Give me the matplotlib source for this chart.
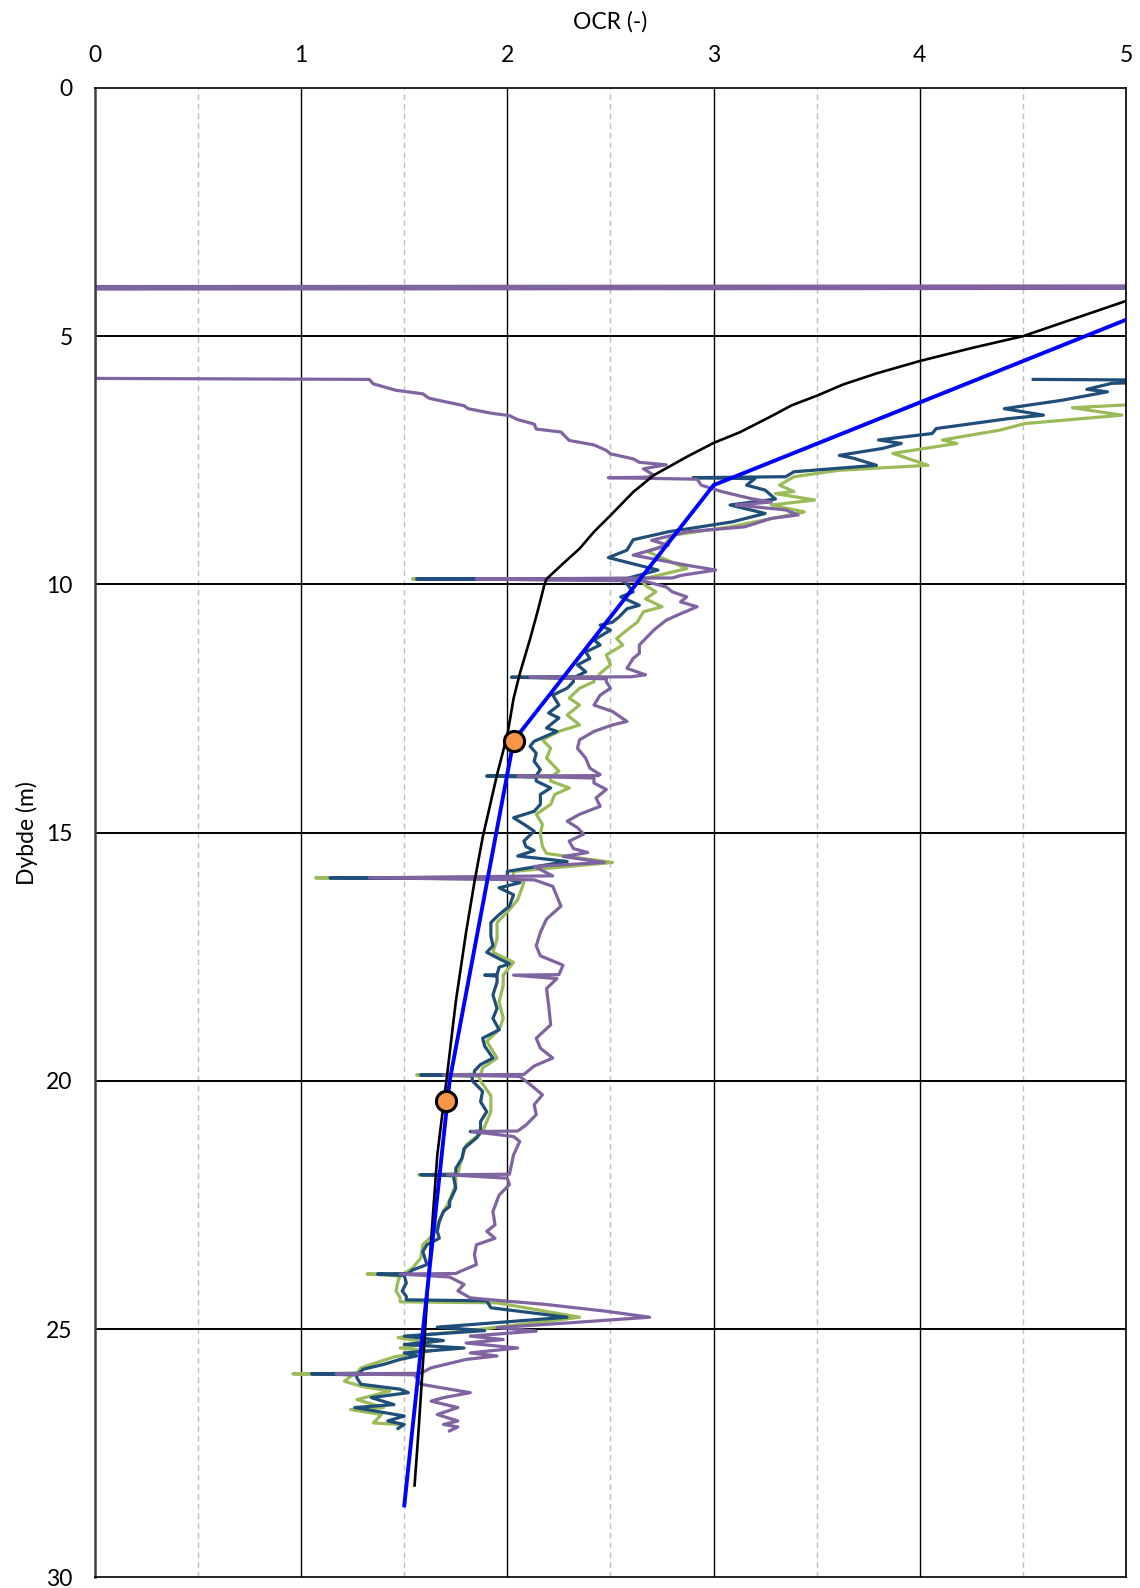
import numpy as np
import matplotlib
matplotlib.use("Agg")
import matplotlib.pyplot as plt

plt.rcParams['font.family'] = ['Lato', 'DejaVu Sans']

# (OCR, depth) pairs
cptu_green = [
    (5.3, 6.32), (4.74, 6.44), (4.98, 6.59), (4.51, 6.76), (4.39, 6.89), (4.11, 7.09), (4.18, 7.16),
    (3.87, 7.36), (3.94, 7.46), (4.04, 7.60), (3.61, 7.70), (3.39, 7.83), (3.32, 8.0), (3.39, 8.13),
    (3.30, 8.17), (3.49, 8.30), (3.28, 8.40), (3.44, 8.54), (3.32, 8.64), (3.08, 8.84), (2.80, 9.01),
    (2.76, 9.21), (2.68, 9.34), (2.87, 9.68), (2.70, 9.85), (2.65, 9.88), (1.54, 9.89), (2.65, 9.91),
    (2.67, 10.02), (2.72, 10.15), (2.67, 10.29), (2.75, 10.45), (2.66, 10.55), (2.63, 10.76),
    (2.58, 10.92), (2.53, 11.09), (2.56, 11.22), (2.48, 11.42), (2.50, 11.62), (2.45, 11.79),
    (2.44, 11.86), (2.02, 11.87), (2.42, 11.89), (2.42, 11.96), (2.35, 12.09), (2.30, 12.29),
    (2.35, 12.43), (2.29, 12.63), (2.35, 12.83), (2.25, 12.96), (2.17, 13.13), (2.21, 13.30),
    (2.19, 13.50), (2.25, 13.76), (2.22, 13.85), (1.90, 13.86), (2.21, 13.88), (2.21, 13.96),
    (2.30, 14.10), (2.23, 14.23), (2.21, 14.43), (2.14, 14.63), (2.17, 14.83), (2.16, 15.03),
    (2.17, 15.28), (2.19, 15.42), (2.51, 15.60), (2.03, 15.78), (2.03, 15.90), (1.07, 15.91),
    (2.05, 15.93), (2.08, 16.01), (2.05, 16.35), (2.01, 16.55), (1.95, 16.81), (1.95, 17.14),
    (1.93, 17.41), (2.03, 17.61), (1.98, 17.87), (1.98, 18.07), (1.96, 18.41), (1.98, 18.74),
    (1.96, 18.97), (1.90, 19.20), (1.95, 19.54), (1.88, 19.74), (1.87, 19.87), (1.56, 19.88),
    (1.86, 19.90), (1.87, 20.0), (1.92, 20.30), (1.92, 20.62), (1.88, 21.02), (1.80, 21.29),
    (1.77, 21.69), (1.76, 21.88), (1.57, 21.89), (1.75, 21.91), (1.75, 22.09), (1.71, 22.49),
    (1.69, 22.63), (1.64, 23.10), (1.59, 23.30), (1.58, 23.57), (1.54, 23.77), (1.50, 23.88),
    (1.32, 23.89), (1.48, 23.93), (1.47, 24.03), (1.46, 24.23), (1.48, 24.37), (1.48, 24.45),
    (1.95, 24.47), (2.35, 24.76), (2.14, 24.87), (1.87, 25.0), (1.47, 25.17), (1.63, 25.28),
    (1.48, 25.38), (1.63, 25.44), (1.45, 25.56), (1.34, 25.71), (1.29, 25.78), (1.27, 25.89),
    (0.96, 25.90), (1.25, 25.92), (1.21, 26.05), (1.29, 26.15), (1.43, 26.25), (1.27, 26.42),
    (1.40, 26.58), (1.24, 26.62), (1.39, 26.72), (1.35, 26.89), (1.47, 26.92),
]

cptu_navy = [
    (4.55, 5.87), (5.4, 5.89), (4.93, 5.95), (4.81, 6.07), (4.91, 6.12), (4.69, 6.29), (4.41, 6.46),
    (4.60, 6.59), (4.43, 6.66), (4.08, 6.86), (4.06, 6.96), (3.80, 7.09), (3.91, 7.16), (3.82, 7.26),
    (3.61, 7.40), (3.68, 7.46), (3.79, 7.60), (3.39, 7.73), (3.35, 7.83), (2.90, 7.85), (3.20, 7.87),
    (3.16, 8.0), (3.25, 8.10), (3.30, 8.28), (3.08, 8.40), (3.25, 8.57), (3.09, 8.74), (2.78, 8.94),
    (2.61, 9.10), (2.58, 9.31), (2.49, 9.46), (2.73, 9.71), (2.58, 9.88), (1.56, 9.89), (2.55, 9.91),
    (2.58, 9.99), (2.61, 10.15), (2.55, 10.25), (2.64, 10.42), (2.58, 10.49), (2.54, 10.66),
    (2.51, 10.76), (2.45, 10.82), (2.50, 10.92), (2.42, 11.12), (2.45, 11.22), (2.38, 11.36),
    (2.40, 11.49), (2.34, 11.62), (2.38, 11.76), (2.33, 11.86), (2.02, 11.87), (2.32, 11.89),
    (2.32, 11.96), (2.29, 12.09), (2.22, 12.23), (2.25, 12.43), (2.20, 12.59), (2.25, 12.69),
    (2.19, 12.89), (2.24, 12.96), (2.13, 13.16), (2.11, 13.26), (2.14, 13.40), (2.13, 13.56),
    (2.16, 13.73), (2.14, 13.85), (1.90, 13.86), (2.14, 13.88), (2.14, 13.96), (2.21, 14.10),
    (2.16, 14.23), (2.16, 14.43), (2.13, 14.57), (2.03, 14.70), (2.08, 14.83), (2.13, 14.97),
    (2.08, 15.17), (2.09, 15.28), (2.13, 15.36), (2.05, 15.47), (2.29, 15.58), (2.0, 15.78),
    (2.0, 15.90), (1.14, 15.91), (2.0, 15.93), (2.06, 16.01), (1.96, 16.11), (2.03, 16.25),
    (2.01, 16.48), (1.96, 16.65), (1.92, 16.81), (1.92, 17.08), (1.93, 17.28), (1.90, 17.41),
    (1.96, 17.54), (2.01, 17.64), (1.96, 17.71), (1.95, 17.86), (1.89, 17.87), (1.95, 17.89),
    (1.95, 18.01), (1.93, 18.27), (1.95, 18.54), (1.93, 18.74), (1.96, 18.97), (1.88, 19.14),
    (1.89, 19.30), (1.93, 19.54), (1.87, 19.67), (1.84, 19.80), (1.84, 19.87), (1.58, 19.88),
    (1.83, 19.90), (1.83, 20.0), (1.88, 20.21), (1.87, 20.42), (1.90, 20.62), (1.87, 20.82),
    (1.87, 21.01), (1.82, 21.02), (1.87, 21.04), (1.85, 21.15), (1.79, 21.36), (1.78, 21.56),
    (1.75, 21.76), (1.75, 21.88), (1.58, 21.89), (1.74, 21.91), (1.74, 21.96), (1.75, 22.16),
    (1.72, 22.43), (1.72, 22.53), (1.69, 22.63), (1.67, 22.83), (1.66, 23.03), (1.67, 23.17),
    (1.61, 23.30), (1.59, 23.44), (1.61, 23.70), (1.54, 23.81), (1.52, 23.88), (1.37, 23.89),
    (1.50, 23.92), (1.51, 24.07), (1.49, 24.23), (1.51, 24.34), (1.51, 24.41), (1.90, 24.43),
    (1.92, 24.57), (2.29, 24.76), (1.66, 24.96), (1.89, 25.03), (1.50, 25.14), (1.69, 25.23),
    (1.50, 25.31), (1.79, 25.38), (1.50, 25.48), (1.56, 25.54), (1.48, 25.61), (1.40, 25.71),
    (1.30, 25.81), (1.28, 25.89), (1.05, 25.90), (1.27, 25.92), (1.27, 25.98), (1.29, 26.11),
    (1.48, 26.21), (1.52, 26.28), (1.34, 26.38), (1.45, 26.52), (1.26, 26.58), (1.50, 26.75),
    (1.42, 26.85), (1.50, 26.92), (1.47, 27.0),
]

cptu_purple = [
    (8.0, 3.98), (0.0, 4.0), (8.0, 4.03), (0.0, 4.05), (0.0, 5.85), (1.33, 5.87), (1.35, 5.96),
    (1.46, 6.09), (1.59, 6.16), (1.62, 6.25), (1.79, 6.40), (1.81, 6.46), (1.92, 6.55), (2.01, 6.60),
    (2.05, 6.68), (2.13, 6.77), (2.14, 6.87), (2.26, 6.93), (2.30, 7.10), (2.42, 7.19), (2.48, 7.30),
    (2.50, 7.37), (2.61, 7.47), (2.64, 7.54), (2.77, 7.59), (2.66, 7.67), (2.71, 7.80), (2.68, 7.84),
    (2.49, 7.85), (2.92, 7.88), (2.94, 8.0), (3.04, 8.13), (3.18, 8.27), (3.28, 8.34), (3.11, 8.40),
    (3.35, 8.50), (3.41, 8.60), (3.28, 8.67), (3.15, 8.84), (2.87, 8.94), (2.70, 9.11), (2.78, 9.21),
    (2.61, 9.41), (2.88, 9.62), (3.01, 9.71), (2.84, 9.82), (2.80, 9.87), (1.85, 9.89), (2.66, 9.93),
    (2.77, 10.05), (2.80, 10.15), (2.87, 10.25), (2.84, 10.35), (2.92, 10.45), (2.84, 10.59),
    (2.77, 10.72), (2.74, 10.82), (2.71, 10.92), (2.67, 11.09), (2.64, 11.22), (2.64, 11.39),
    (2.61, 11.49), (2.58, 11.69), (2.67, 11.82), (2.60, 11.86), (2.11, 11.87), (2.48, 11.90),
    (2.48, 11.96), (2.50, 12.09), (2.45, 12.23), (2.42, 12.43), (2.51, 12.56), (2.58, 12.76),
    (2.51, 12.83), (2.42, 12.96), (2.35, 13.13), (2.34, 13.30), (2.38, 13.50), (2.40, 13.70),
    (2.45, 13.83), (2.44, 13.85), (2.05, 13.86), (2.42, 13.90), (2.42, 14.0), (2.48, 14.13),
    (2.43, 14.30), (2.45, 14.47), (2.35, 14.63), (2.29, 14.77), (2.34, 14.90), (2.37, 15.03),
    (2.30, 15.17), (2.32, 15.32), (2.39, 15.40), (2.27, 15.48), (2.47, 15.60), (2.13, 15.68),
    (2.22, 15.87), (1.33, 15.91), (2.13, 15.95), (2.22, 16.08), (2.24, 16.28), (2.26, 16.48),
    (2.19, 16.74), (2.16, 17.01), (2.14, 17.28), (2.16, 17.48), (2.27, 17.67), (2.25, 17.86),
    (2.03, 17.87), (2.24, 17.94), (2.19, 18.14), (2.20, 18.47), (2.21, 18.87), (2.14, 19.14),
    (2.16, 19.34), (2.22, 19.54), (2.13, 19.70), (2.08, 19.87), (1.69, 19.88), (2.06, 19.91),
    (2.11, 20.07), (2.17, 20.28), (2.13, 20.48), (2.14, 20.68), (2.09, 20.89), (2.05, 21.01),
    (1.83, 21.02), (2.03, 21.12), (2.06, 21.22), (2.03, 21.49), (2.01, 21.88), (1.71, 21.89),
    (2.00, 21.96), (2.01, 22.09), (1.96, 22.30), (1.93, 22.63), (1.94, 22.90), (1.90, 23.03),
    (1.94, 23.17), (1.85, 23.30), (1.84, 23.50), (1.85, 23.70), (1.77, 23.84), (1.75, 23.88),
    (1.48, 23.89), (1.72, 23.95), (1.79, 24.10), (1.76, 24.23), (1.82, 24.37), (1.95, 24.42),
    (2.18, 24.50), (2.48, 24.64), (2.69, 24.76), (2.31, 24.87), (1.95, 24.97), (2.14, 25.04),
    (1.82, 25.14), (1.98, 25.21), (1.80, 25.28), (2.05, 25.38), (1.82, 25.48), (1.95, 25.54),
    (1.80, 25.61), (1.63, 25.78), (1.58, 25.89), (1.17, 25.90), (1.55, 25.92), (1.58, 26.11),
    (1.82, 26.28), (1.69, 26.38), (1.63, 26.45), (1.76, 26.58), (1.66, 26.72), (1.76, 26.85),
    (1.69, 26.92), (1.76, 26.97), (1.72, 27.05),
]

ocr_curve = [
    (5.0, 4.29), (4.5, 5.0), (4.25, 5.24), (4.0, 5.50), (3.79, 5.75), (3.63, 5.97), (3.5, 6.20),
    (3.38, 6.39), (3.29, 6.59), (3.13, 6.93), (3.0, 7.15), (2.87, 7.43), (2.71, 7.80), (2.61, 8.14),
    (2.50, 8.61), (2.42, 8.94), (2.35, 9.28), (2.27, 9.58), (2.19, 9.89), (2.18, 10.0),
    (2.15, 10.49), (2.11, 11.1), (2.06, 11.8), (2.03, 12.3), (2.0, 13.03), (1.95, 13.83),
    (1.88, 15.1), (1.84, 16.0), (1.80, 17.0), (1.75, 18.4), (1.71, 19.8), (1.66, 21.5),
    (1.62, 23.8), (1.57, 27.0), (1.55, 28.15),
]

ocr_design = [(5.0, 4.67), (3.0, 8.0), (2.03, 13.15), (1.72, 20.0), (1.50, 28.55)]

ocr_lab = [2.03, 1.70]
depth_lab = [13.15, 20.4]

x_ticks = [0, 1, 2, 3, 4, 5]
y_ticks = [0, 5, 10, 15, 20, 25, 30]

fig = plt.figure(figsize=(11.4, 15.88), dpi=100)
ax = fig.add_axes([0.0833, 0.0067, 0.9044, 0.9379])

# grid first so it sits under the profiles
for x in np.arange(0.5, 5, 1.0):
    ax.axvline(x, color='#BFBFBF', lw=1.0, ls=(0, (4, 3)), zorder=1)
for x in x_ticks[1:]:
    ax.axvline(x, color='black', lw=1.0, zorder=1)
for y in y_ticks[1:-1]:
    ax.axhline(y, color='black', lw=1.4, zorder=1)

for data, col in [(cptu_green, '#9BBB59'), (cptu_navy, '#1F4E79'), (cptu_purple, '#8064A2')]:
    arr = np.array(data)
    ax.plot(arr[:, 0], arr[:, 1], color=col, lw=2.3, zorder=2, solid_joinstyle='round')

arr = np.array(ocr_curve)
ax.plot(arr[:, 0], arr[:, 1], color='black', lw=1.9, zorder=3, solid_joinstyle='round')
arr = np.array(ocr_design)
ax.plot(arr[:, 0], arr[:, 1], color='#0000FF', lw=2.8, zorder=4)
ax.plot(ocr_lab, depth_lab, 'o', ms=14.5, mfc='#F79646', mec='black', mew=2.2, zorder=5)

ax.set_xlim(0, 5)
ax.set_ylim(30, 0)
ax.xaxis.tick_top()
ax.xaxis.set_label_position('top')
ax.set_xticks(x_ticks)
ax.set_yticks(y_ticks)
ax.tick_params(length=0, labelsize=16.5, colors='black')
ax.tick_params(axis='x', pad=16)
ax.tick_params(axis='y', pad=16)
ax.set_xlabel('OCR (-)', fontsize=16.5, labelpad=12)
ax.set_ylabel('Dybde (m)', fontsize=16.5, labelpad=6)

for s in ['top', 'bottom', 'right']:
    ax.spines[s].set_color('black')
    ax.spines[s].set_linewidth(1.2)
ax.spines['left'].set_color('#404040')
ax.spines['left'].set_linewidth(1.8)

fig.savefig('out.png', dpi=100)
